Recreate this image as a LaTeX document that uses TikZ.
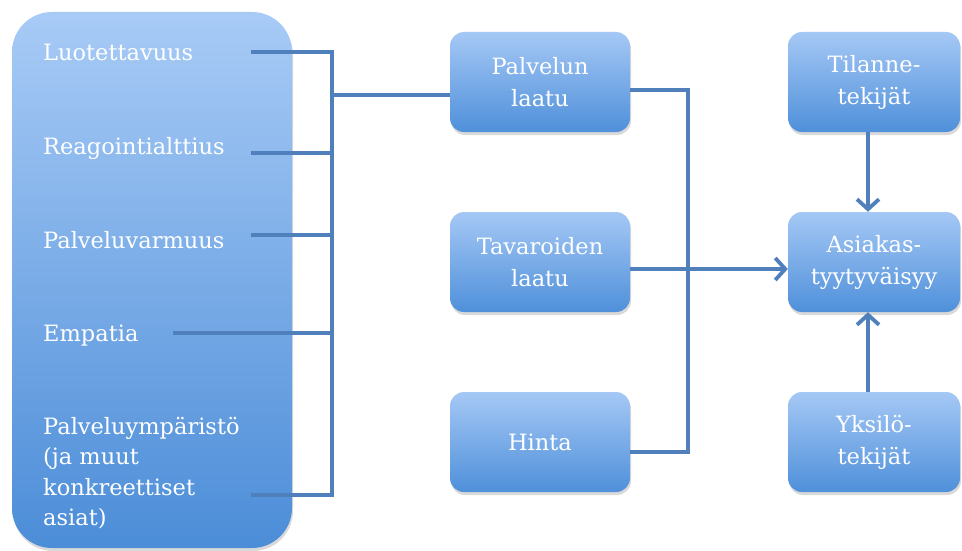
\documentclass[tikz,border=0pt]{standalone}
\usepackage{fontspec}
\setmainfont{DejaVu Serif}
\usetikzlibrary{shadows,arrows.meta}
\definecolor{boxtop}{HTML}{A5C8F5}
\definecolor{boxbot}{HTML}{4F90DA}
\definecolor{bigtop}{HTML}{A8CBF6}
\definecolor{bigbot}{HTML}{4C8DD8}
\definecolor{linec}{HTML}{4F80BC}
\begin{document}
\begin{tikzpicture}[x=1pt,y=-1pt,
  box/.style={rounded corners=14pt, top color=boxtop, bottom color=boxbot, draw=none,
    drop shadow={shadow xshift=1pt,shadow yshift=-3pt,opacity=0.3},
    minimum width=180pt, minimum height=100pt, inner sep=0pt,
    text=white, font=\fontsize{22.5}{32}\selectfont, align=center},
  lbl/.style={text=white, font=\fontsize{22.5}{30.5}\selectfont, inner sep=0pt},
  conn/.style={draw=linec, line width=3.8pt},
  arr/.style={conn, -{Straight Barb[length=10pt,width=22pt,line width=3.8pt]}}]
\useasboundingbox (0,0) rectangle (962,551);
% big box
\node[rounded corners=40pt, top color=bigtop, bottom color=bigbot, draw=none,
  drop shadow={shadow xshift=1pt,shadow yshift=-3pt,opacity=0.3},
  minimum width=280pt, minimum height=536pt, inner sep=0pt] (big) at (152,280) {};
\node[lbl, anchor=base west] (t1) at (43,61) {Luotettavuus};
\node[lbl, anchor=base west] (t2) at (43,154) {Reagointialttius};
\node[lbl, anchor=base west] (t3) at (43,248) {Palveluvarmuus};
\node[lbl, anchor=base west] (t4) at (43,341) {Empatia};
\node[lbl, anchor=west, align=left] (t5) at (43,473) {Palveluympäristö\\(ja muut\\konkreettiset\\asiat)};
% middle column
\node[box] (pl) at (540,82) {Palvelun\\laatu};
\node[box] (tl) at (540,262) {Tavaroiden\\laatu};
\node[box] (hi) at (540,442) {Hinta};
% right column
\node[box, minimum width=172pt] (ti) at (874,82) {Tilanne-\\tekijät};
\node[box, minimum width=172pt] (as) at (874,262) {Asiakas-\\tyytyväisyy};
\node[box, minimum width=172pt] (yk) at (874,442) {Yksilö-\\tekijät};
% left connectors
\coordinate (c1) at (251,52);
\coordinate (c2) at (251,153);
\coordinate (c3) at (251,235);
\coordinate (c4) at (173,333);
\coordinate (c5) at (251,495);
\coordinate (vt) at (332,52);
\coordinate (vb) at (332,495);
\coordinate (j) at (332,95);
\draw[conn] (c1) -- (vt) -- (vb) -- (c5);
\draw[conn] (c2) -- (c2 -| vt);
\draw[conn] (c3) -- (c3 -| vt);
\draw[conn] (c4) -- (c4 -| vt);
\draw[conn] (j) -- (j -| pl.west);
% middle connectors
\coordinate (m) at (688,452);
\draw[conn] ([yshift=-8pt]pl.east) -| (m) -- ([yshift=-10pt]hi.east);
\draw[arr] ([yshift=-7pt]tl.east) -- ([yshift=-7pt]as.west);
\draw[arr] ([xshift=-6pt]ti.south) -- ([xshift=-6pt]as.north);
\draw[arr] ([xshift=-6pt]yk.north) -- ([xshift=-6pt]as.south);
\end{tikzpicture}
\end{document}
